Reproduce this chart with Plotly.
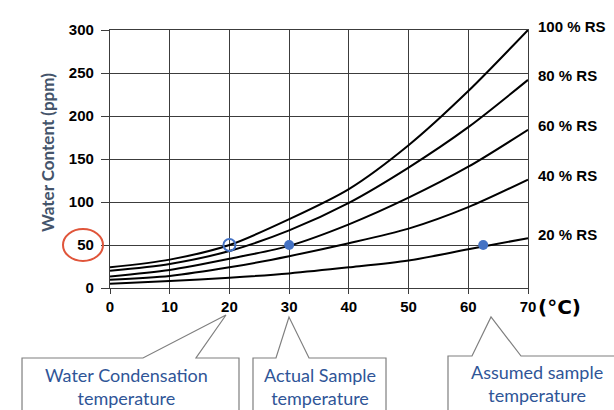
import plotly.graph_objects as go

# ---- data ----
temps = [0, 10, 20, 30, 40, 50, 60, 70]
rs100 = [24, 33, 50, 80, 115, 166, 229, 300]
rs80 = [20, 28, 43, 67, 99, 140, 187, 242]
rs60 = [13.5, 21, 34, 49, 74, 105, 141, 184]
rs40 = [9.5, 14, 24, 37, 52, 69, 94, 126]
rs20 = [5, 8, 12, 17, 24, 32, 45, 58]
curve_labels = ["100 % RS", "80 % RS", "60 % RS", "40 % RS", "20 % RS"]

condensation_pt = [20, 50]
actual_pt = [30, 50]
assumed_pt = [62.5, 50]

x_ticks = [0, 10, 20, 30, 40, 50, 60, 70]
y_ticks = [0, 50, 100, 150, 200, 250, 300]

callout_texts = ["Water Condensation<br>temperature",
                 "Actual Sample<br>temperature",
                 "Assumed sample<br>temperature"]

# ---- layout geometry (pixels) ----
W, H = 614, 410
L, R, T, B = 110, 528, 30, 288


def px(x):
    return (x - L) / (R - L)


def py(y):
    return (B - y) / (B - T)


def path(points):
    return "M " + " L ".join(f"{px(a):.4f},{py(b):.4f}" for a, b in points) + " Z"


fig = go.Figure()
for ys in [rs100, rs80, rs60, rs40, rs20]:
    fig.add_trace(go.Scatter(x=temps, y=ys, mode="lines",
                             line=dict(color="black", width=2, shape="spline", smoothing=0.8),
                             hoverinfo="skip", showlegend=False))

blue = "#4472C4"
fig.add_trace(go.Scatter(x=[condensation_pt[0]], y=[condensation_pt[1]], mode="markers",
                         marker=dict(size=12, color="rgba(0,0,0,0)", line=dict(color=blue, width=2)),
                         showlegend=False))
fig.add_trace(go.Scatter(x=[actual_pt[0], assumed_pt[0]], y=[actual_pt[1], assumed_pt[1]], mode="markers",
                         marker=dict(size=10, color=blue), showlegend=False))

grid = "#3c3c3c"
bold_font = "Liberation Sans"
tickfont = dict(family=bold_font, size=15, color="black", weight="bold")

fig.update_xaxes(range=[0, 70], tickvals=x_ticks, ticktext=[str(v) for v in x_ticks],
                 showgrid=True, gridcolor=grid, gridwidth=1.3,
                 showline=True, linecolor=grid, linewidth=1.3, mirror=True,
                 ticks="outside", ticklen=5, tickcolor=grid, tickfont=tickfont, zeroline=False)
fig.update_yaxes(range=[0, 300], tickvals=y_ticks, ticktext=[str(v) for v in y_ticks],
                 showgrid=True, gridcolor=grid, gridwidth=1.3,
                 showline=True, linecolor=grid, linewidth=1.3, mirror=True,
                 ticks="outside", ticklen=8, tickcolor=grid, tickfont=tickfont, zeroline=False,
                 ticklabelstandoff=4)

annotations = []
ends = [rs100[-1], rs80[-1], rs60[-1], rs40[-1], rs20[-1]]
for lab, yv in zip(curve_labels, ends):
    annotations.append(dict(text=lab, xref="paper", x=1, xanchor="left", xshift=8,
                            yref="y", y=yv, yanchor="middle", yshift=4, showarrow=False,
                            font=dict(family=bold_font, size=15, color="black", weight="bold")))

annotations.append(dict(text="(°C)", xref="paper", x=px(536), xanchor="left",
                        yref="paper", y=py(307), yanchor="middle", showarrow=False,
                        font=dict(family="DejaVu Sans", size=20, color="black", weight="bold")))

annotations.append(dict(text="Water Content (ppm)", textangle=-90, xref="paper", x=px(47),
                        xanchor="center", yref="paper", y=py(152), yanchor="middle", showarrow=False,
                        font=dict(family="Lato", size=17, color="#44546A", weight="bold")))

text_blue = "#2F5597"
centers = [(126, 386), (320, 386), (537, 383)]
for txt, (cx, cy) in zip(callout_texts, centers):
    annotations.append(dict(text=txt, xref="paper", x=px(cx), xanchor="center",
                            yref="paper", y=py(cy), yanchor="middle", showarrow=False,
                            font=dict(family="Lato", size=18, color=text_blue)))

box_line = dict(color="#7f7f7f", width=1.2)
shapes = [
    dict(type="path", xref="paper", yref="paper", layer="above",
         path=path([(22, 425), (22, 358), (143, 358), (226, 315), (196, 358), (239, 358), (239, 425)]),
         line=box_line, fillcolor="white"),
    dict(type="path", xref="paper", yref="paper", layer="above",
         path=path([(253, 425), (253, 358), (276, 358), (289, 317), (309, 358), (386, 358), (386, 425)]),
         line=box_line, fillcolor="white"),
    dict(type="path", xref="paper", yref="paper", layer="above",
         path=path([(448, 425), (448, 356), (472, 356), (491, 317), (521, 356), (625, 356), (625, 425)]),
         line=box_line, fillcolor="white"),
    dict(type="circle", xref="paper", yref="paper",
         x0=px(63), x1=px(103), y0=py(261), y1=py(229),
         line=dict(color="#E0553A", width=2)),
]

fig.update_layout(width=W, height=H, autosize=False,
                  margin=dict(l=L, r=W - R, t=T, b=H - B),
                  plot_bgcolor="white", paper_bgcolor="white",
                  showlegend=False, annotations=annotations, shapes=shapes)

fig.write_html("out.html", config={"displayModeBar": False},
               post_script="document.body.style.margin='0';document.body.style.overflow='hidden';")
